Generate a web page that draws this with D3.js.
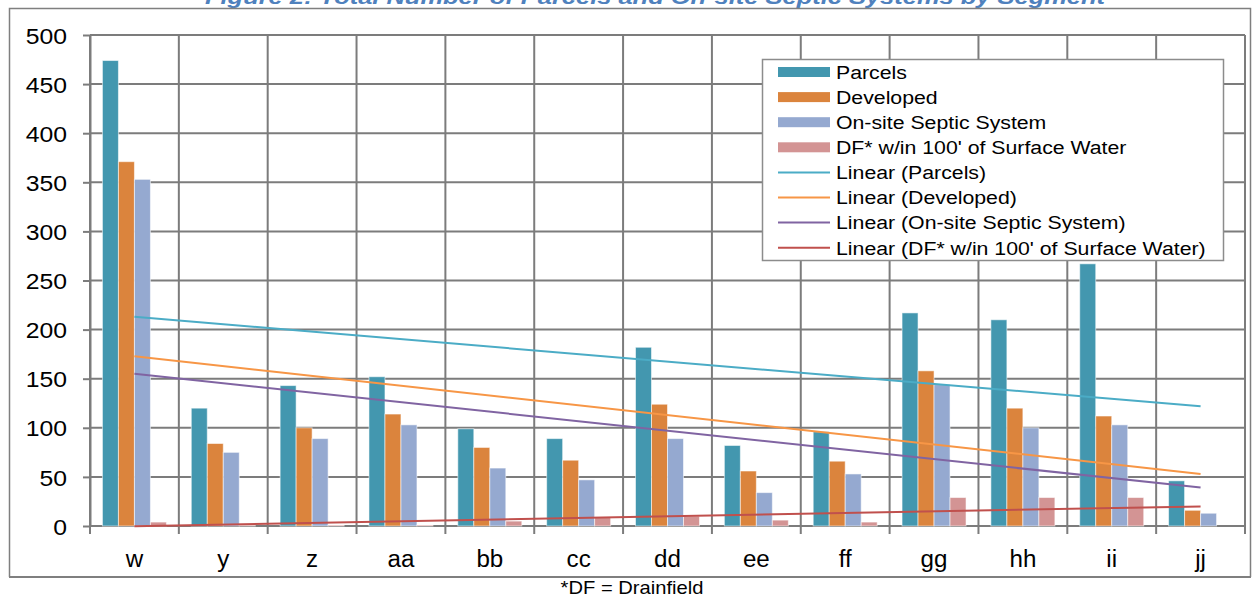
<!DOCTYPE html>
<html>
<head>
<meta charset="utf-8">
<script src="https://cdn.jsdelivr.net/npm/d3@7/dist/d3.min.js"></script>
<style>
  html, body { margin: 0; padding: 0; background: #fff; }
  svg { display: block; }
  text { font-family: "Liberation Sans", Arial, sans-serif; fill: #000; }
</style>
</head>
<body>
<svg id="chart" width="1254" height="598"></svg>
<script>
// Segments along the x axis
const categories = ["w", "y", "z", "aa", "bb", "cc", "dd", "ee", "ff", "gg", "hh", "ii", "jj"];

// Counts per segment
const parcels   = [474, 120, 143, 152, 99, 89, 182, 82, 96, 217, 210, 267, 46];
const developed = [371, 84, 100, 114, 80, 67, 124, 56, 66, 158, 120, 112, 16];
const septic    = [353, 75, 89, 103, 59, 47, 89, 34, 53, 144, 100, 103, 13];
const drainfieldNearWater = [4, 1, 1, 1, 5, 9, 10, 6, 4, 29, 29, 29, 0];

const seriesNames = ["Parcels", "Developed", "On-site Septic System", "DF* w/in 100' of Surface Water"];
const seriesValues = [parcels, developed, septic, drainfieldNearWater];
const barColors = ["#4397AF", "#DB843D", "#95A9D0", "#D39494"];
const trendColors = ["#4BACC6", "#F79646", "#8064A2", "#C0504D"];

const yTicks = [0, 50, 100, 150, 200, 250, 300, 350, 400, 450, 500];

const titleText = "Figure 2: Total Number of Parcels and On-site Septic Systems by Segment";
const footnoteText = "*DF = Drainfield";

const svg = d3.select("#chart");

// Plot area
const plot = { left: 90, right: 1245, top: 35, bottom: 526 };

const x0 = d3.scaleBand().domain(categories).range([plot.left, plot.right]).padding(0);
const x1 = d3.scaleBand().domain(d3.range(seriesNames.length)).range([0, x0.bandwidth()])
  .paddingInner(0).paddingOuter(0.777);
const y = d3.scaleLinear().domain([0, 500]).range([plot.bottom, plot.top]);

// Title (runs off the top of the page, above the frame)
svg.append("text")
  .attr("x", 655).attr("y", 4)
  .attr("text-anchor", "middle")
  .attr("textLength", 900).attr("lengthAdjust", "spacingAndGlyphs")
  .style("font-size", "21px").style("font-weight", "bold").style("font-style", "italic")
  .style("fill", "#4F81BD")
  .text(titleText);

// Outer frame
svg.append("path")
  .attr("d", "M9.5,577 L9.5,8.5 L1250.5,8.5 L1250.5,577")
  .attr("fill", "none").attr("stroke", "#7f7f7f").attr("stroke-width", 1.5);
svg.append("line")
  .attr("x1", 9).attr("x2", 1251).attr("y1", 577).attr("y2", 577)
  .attr("stroke", "#7f7f7f").attr("stroke-width", 2);

const gridColor = "#7c7c7c";
const gridWidth = 2;

// Horizontal gridlines
svg.append("g").selectAll("line").data(yTicks).join("line")
  .attr("x1", plot.left).attr("x2", plot.right)
  .attr("y1", d => y(d)).attr("y2", d => y(d))
  .attr("stroke", gridColor).attr("stroke-width", gridWidth);

// Vertical gridlines at segment boundaries, running past the baseline as ticks
const boundaries = categories.map(c => x0(c)).concat([x0(categories[categories.length - 1]) + x0.bandwidth()]);
svg.append("g").selectAll("line").data(boundaries).join("line")
  .attr("x1", d => d).attr("x2", d => d)
  .attr("y1", plot.top).attr("y2", plot.bottom + 8)
  .attr("stroke", gridColor).attr("stroke-width", gridWidth);

// Y axis
const yAxis = svg.append("g")
  .attr("transform", `translate(${plot.left},0)`)
  .call(d3.axisLeft(y).tickValues(yTicks).tickSize(7).tickSizeOuter(0));
yAxis.select(".domain").attr("stroke", gridColor).attr("stroke-width", gridWidth);
yAxis.selectAll(".tick line").attr("stroke", gridColor).attr("stroke-width", gridWidth);
yAxis.selectAll(".tick text")
  .attr("x", -23 / 1.1).attr("dy", "0.36em")
  .attr("transform", "scale(1.1,1)")
  .style("font-size", "22.5px").style("font-family", "'Liberation Sans', Arial, sans-serif")
  .attr("fill", "#000");

// Bars
const groups = svg.append("g").selectAll("g").data(categories).join("g")
  .attr("transform", c => `translate(${x0(c)},0)`);
groups.selectAll("rect")
  .data((c, i) => seriesValues.map((vals, s) => ({ s, v: vals[i] })))
  .join("rect")
  .attr("x", d => x1(d.s))
  .attr("width", x1.bandwidth())
  .attr("y", d => y(d.v))
  .attr("height", d => y(0) - y(d.v))
  .attr("fill", d => barColors[d.s])
  .attr("stroke", "rgba(255,255,255,0.55)")
  .attr("stroke-width", 1);

// Linear trendlines (least squares over segment index)
function linearFit(vals) {
  const n = vals.length;
  const xs = d3.range(1, n + 1);
  const mx = d3.mean(xs), my = d3.mean(vals);
  const sxy = d3.sum(xs, (xv, i) => (xv - mx) * (vals[i] - my));
  const sxx = d3.sum(xs, xv => (xv - mx) * (xv - mx));
  const slope = sxy / sxx;
  return xv => my + slope * (xv - mx);
}
const centerX = c => x0(c) + x0.bandwidth() / 2;
const first = categories[0], last = categories[categories.length - 1];
seriesValues.forEach((vals, s) => {
  const f = linearFit(vals);
  svg.append("line")
    .attr("x1", centerX(first)).attr("y1", y(f(1)))
    .attr("x2", centerX(last)).attr("y2", y(f(categories.length)))
    .attr("stroke", trendColors[s]).attr("stroke-width", 2);
});

// Category labels
svg.append("g").selectAll("text").data(categories).join("text")
  .attr("transform", c => `translate(${centerX(c)},567) scale(1.05,1)`)
  .attr("text-anchor", "middle")
  .style("font-size", "23px")
  .text(c => c);

// Footnote
svg.append("text")
  .attr("transform", "translate(632,594) scale(1.12,1)")
  .attr("text-anchor", "middle")
  .style("font-size", "18px")
  .text(footnoteText);

// Legend
const legend = svg.append("g");
legend.append("rect")
  .attr("x", 762.5).attr("y", 59.5).attr("width", 461).attr("height", 201)
  .attr("fill", "#fff").attr("stroke", "#8c8c8c").attr("stroke-width", 1.5);
const legendItems = seriesNames.map((name, i) => ({ label: name, kind: "bar", color: barColors[i] }))
  .concat(seriesNames.map((name, i) => ({ label: `Linear (${name})`, kind: "line", color: trendColors[i] })));
const items = legend.selectAll("g.item").data(legendItems).join("g")
  .attr("class", "item")
  .attr("transform", (d, i) => `translate(0,${72 + i * 25.1})`);
items.filter(d => d.kind === "bar").append("rect")
  .attr("x", 778).attr("y", -5).attr("width", 52).attr("height", 10)
  .attr("fill", d => d.color);
items.filter(d => d.kind === "line").append("line")
  .attr("x1", 778).attr("x2", 830).attr("y1", 0).attr("y2", 0)
  .attr("stroke", d => d.color).attr("stroke-width", 2);
items.append("text")
  .attr("transform", "translate(836,0) scale(1.12,1)")
  .attr("dy", "0.36em")
  .style("font-size", "19px")
  .text(d => d.label);
</script>
</body>
</html>
